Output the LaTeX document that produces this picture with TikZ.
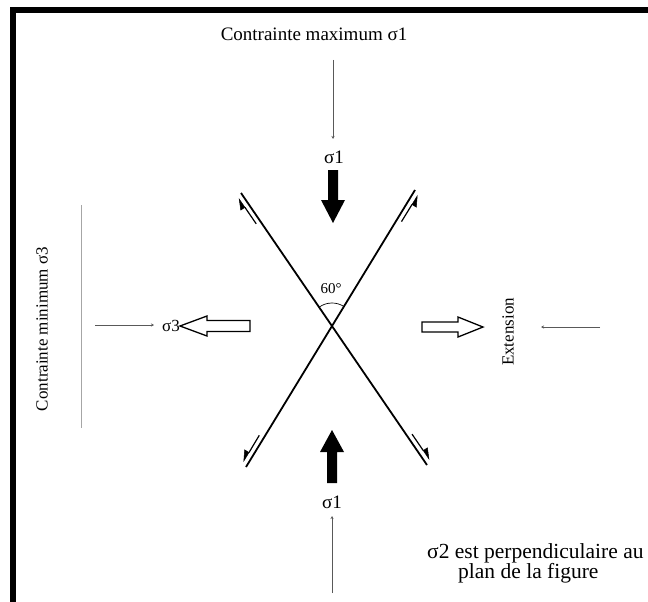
\documentclass[tikz,border=0pt]{standalone}
\usepackage{fontspec}
\setmainfont{Liberation Serif}
\usetikzlibrary{arrows.meta}
\begin{document}
\begin{tikzpicture}[x=1pt,y=-1pt,
  fault/.style={line width=1.8pt},
  slipline/.style={line width=1.2pt},
  slipbarb/.style={fill=black,draw=black,line width=0.5pt,line join=miter},
  thinarrow/.style={line width=0.9pt,draw=black!65,-{Stealth[length=3pt,width=3pt]}},
  solidarrow/.style={fill=black},
  openarrow/.style={draw=black,line width=1.3pt,fill=white,line join=miter},
  lab/.style={inner sep=0pt,font=\fontsize{19}{22}\selectfont},
  sidelab/.style={inner sep=0pt,font=\fontsize{17}{20}\selectfont,rotate=90},
  notelab/.style={inner sep=0pt,anchor=west,font=\fontsize{21.5}{24}\selectfont}]
\useasboundingbox (0,0) rectangle (648,602);
\fill[white] (0,0) rectangle (648,602);
% frame (left and top edges)
\draw[line width=6pt] (13,602) -- (13,10) -- (648,10);

% conjugate faults
\coordinate (C) at (332,325);
\coordinate (ul) at (241,193);
\coordinate (lr) at (427,465);
\coordinate (ur) at (415,190);
\coordinate (ll) at (246,467);
\draw[fault] (ul) -- (lr);
\draw[fault] (ur) -- (ll);

% slip sense marks beside the fault ends: shaft, then a one-sided barb
\coordinate (ulA) at (256.2,223.8); \coordinate (ulH) at (244.9,207.3);
\coordinate (ulB) at (239.2,199.1); \coordinate (ulW) at (240.8,210.1);
\draw[slipline] (ulA) -- (ulH);
\filldraw[slipbarb] (ulB) -- (ulH) -- (ulW) -- cycle;

\coordinate (urA) at (401.5,221.6); \coordinate (urH) at (412.0,204.5);
\coordinate (urB) at (417.2,196.0); \coordinate (urW) at (416.3,207.1);
\draw[slipline] (urA) -- (urH);
\filldraw[slipbarb] (urB) -- (urH) -- (urW) -- cycle;

\coordinate (llA) at (259.3,435.3); \coordinate (llH) at (249.0,452.5);
\coordinate (llB) at (243.8,461.0); \coordinate (llW) at (244.7,449.9);
\draw[slipline] (llA) -- (llH);
\filldraw[slipbarb] (llB) -- (llH) -- (llW) -- cycle;

\coordinate (lrA) at (412.0,434.1); \coordinate (lrH) at (423.3,450.6);
\coordinate (lrB) at (428.9,458.9); \coordinate (lrW) at (427.4,447.8);
\draw[slipline] (lrA) -- (lrH);
\filldraw[slipbarb] (lrB) -- (lrH) -- (lrW) -- cycle;

% angle between the faults
\draw[line width=0.7pt] (C) ++(-58.4:22) arc[start angle=-58.4, end angle=-124.6, radius=22];
\node[inner sep=0pt,font=\fontsize{15}{18}\selectfont] (ang) at (331,289) {60°};

% maximum stress, top
\node[lab] (title) at (314,34) {Contrainte maximum σ1};
\coordinate (t0) at (333,60);
\coordinate (t1) at (333,139);
\draw[thinarrow] (t0) -- (t1);
\node[lab] (s1top) at (334,157) {σ1};
\fill[solidarrow] (328,170) -- (338,170) -- (338,200) -- (345,200) -- (333,223)
  -- (321,200) -- (328,200) -- cycle;

% maximum stress, bottom
\fill[solidarrow] (327,483) -- (337,483) -- (337,452) -- (344,452) -- (332,430)
  -- (320,452) -- (327,452) -- cycle;
\node[lab] (s1bot) at (332,502) {σ1};
\coordinate (b0) at (332,593);
\coordinate (b1) at (332,516);
\draw[thinarrow] (b0) -- (b1);

% minimum stress, left
\draw[line width=0.6pt,draw=black!35] (81,205) -- (81,428);
\node[sidelab] (minlab) at (42,329) {Contrainte minimum σ3};
\coordinate (l0) at (95,325);
\coordinate (l1) at (154,325);
\draw[thinarrow] (l0) -- (l1);
\node[inner sep=0pt,font=\fontsize{17}{20}\selectfont] (s3) at (171,326) {σ3};
\draw[openarrow] (250,320.5) -- (207,320.5) -- (207,316) -- (180,326) -- (207,336)
  -- (207,331.5) -- (250,331.5) -- cycle;

% extension, right
\draw[openarrow] (422,322) -- (458,322) -- (458,317) -- (483,327) -- (458,337)
  -- (458,332) -- (422,332) -- cycle;
\node[sidelab] (ext) at (508,332) {Extension};
\coordinate (r0) at (600,327);
\coordinate (r1) at (541,327);
\draw[thinarrow] (r0) -- (r1);

% note on the intermediate stress
\node[notelab] (note1) at (427,553) {σ2 est perpendiculaire au};
\node[notelab] (note2) at (458,573) {plan de la figure};
\end{tikzpicture}
\end{document}
